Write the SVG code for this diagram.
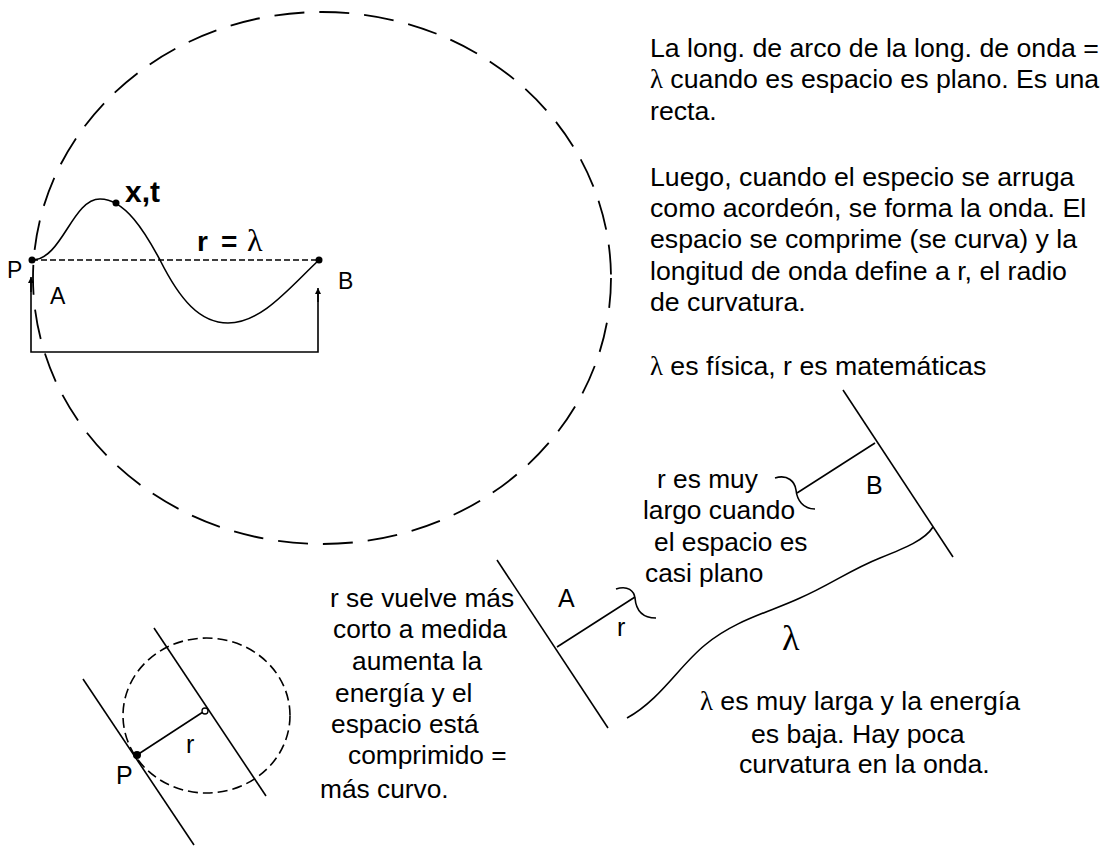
<svg xmlns="http://www.w3.org/2000/svg" width="1107" height="846" viewBox="0 0 1107 846">
<style>
text{font-family:"Liberation Sans",Arial,sans-serif;fill:#000;font-size:26.7px}
.mid{font-size:26.3px}
.lam{font-family:"Liberation Serif","Times New Roman",serif}
.ln{fill:none;stroke:#000;stroke-width:1.6}
.bigdash{fill:none;stroke:#000;stroke-width:1.8;stroke-dasharray:30 15}
.smdash{fill:none;stroke:#000;stroke-width:1.6;stroke-dasharray:10 5}
.bold{font-weight:bold}
.lbl{font-size:23px}
</style>
<defs>
<marker id="arr" viewBox="0 0 10 10" refX="10" refY="5" markerWidth="6" markerHeight="6" orient="auto" markerUnits="userSpaceOnUse">
<path d="M0,0 L10,5 L0,10 z" fill="#000"/>
</marker>
</defs>
<rect width="1107" height="846" fill="#fff"/>

<g id="big-circle">
<ellipse class="bigdash" cx="322" cy="278" rx="289" ry="266"/>
</g>

<g id="wave-diagram">
<line x1="32" y1="260" x2="319" y2="260" stroke="#000" stroke-width="1.6" stroke-dasharray="6 3"/>
<path class="ln" d="M32,260 C62,260 72,199 100,199 C125,199 145,232 160,260 C180,300 200,323 228,323 C262,323 290,287 319,260"/>
<circle cx="32" cy="260" r="3.5" fill="#000"/>
<circle cx="319" cy="260" r="3.5" fill="#000"/>
<circle cx="116" cy="203" r="3.5" fill="#000"/>
<text x="125" y="202" class="bold" style="font-size:30px">x,t</text>
<text x="197" y="251" class="bold" style="font-size:28px">r</text>
<text x="221" y="251" class="bold" style="font-size:28px">=</text>
<text x="247" y="251" class="lam" style="font-size:32px">λ</text>
<text x="7" y="278" class="lbl">P</text>
<text x="50" y="304" class="lbl">A</text>
<text x="338" y="289" class="lbl">B</text>
</g>

<g id="connectors">
<path class="ln" d="M31,282 L31,352 L318,352 L318,292"/>
<line x1="31" y1="292" x2="31" y2="277" class="ln" marker-end="url(#arr)"/>
<line x1="318" y1="302" x2="318" y2="288" class="ln" marker-end="url(#arr)"/>
</g>

<g id="text-right">
<text x="650" y="57">La long. de arco de la long. de onda =</text>
<text x="650" y="88"><tspan class="lam">λ</tspan> cuando es espacio es plano. Es una</text>
<text x="650" y="120">recta.</text>
<text x="650" y="186">Luego, cuando el especio se arruga</text>
<text x="650" y="217">como acordeón, se forma la onda. El</text>
<text x="650" y="248">espacio se comprime (se curva) y la</text>
<text x="650" y="280">longitud de onda define a r, el radio</text>
<text x="650" y="311">de curvatura.</text>
<text x="650" y="375"><tspan class="lam">λ</tspan> es física, r es matemáticas</text>
</g>

<g id="flat-space">
<line class="ln" x1="843" y1="390" x2="953" y2="557"/>
<line class="ln" x1="497" y1="560" x2="608" y2="728"/>
<line class="ln" x1="875" y1="443" x2="797" y2="493"/>
<line class="ln" x1="557" y1="647" x2="635" y2="597"/>
<path class="ln" d="M775,478 C788,474 795,482 796,490 C797,500 803,509 815,509"/>
<path class="ln" d="M616,589 C628,585 634,591 635,598 C636,610 642,618 656,618"/>
<path class="ln" d="M933,527 C925,540 905,548 880,558 C850,570 830,585 800,598 C770,612 735,620 705,645 C680,665 660,700 627,718"/>
<text x="866" y="494" style="font-size:25px">B</text>
<text x="558" y="607" style="font-size:25px">A</text>
<text x="617" y="636" style="font-size:25px">r</text>
<text x="782" y="650" class="lam" style="font-size:36px">λ</text>
<text class="mid" x="657" y="488">r es muy</text>
<text class="mid" x="643" y="519">largo cuando</text>
<text class="mid" x="654" y="551">el espacio es</text>
<text class="mid" x="645" y="582">casi plano</text>
</g>

<g id="text-middle">
<text class="mid" x="330" y="607">r se vuelve más</text>
<text class="mid" x="333" y="638">corto a medida</text>
<text class="mid" x="352" y="670">aumenta la</text>
<text class="mid" x="335" y="702">energía y el</text>
<text class="mid" x="331" y="733">espacio está</text>
<text class="mid" x="348" y="764">comprimido =</text>
<text class="mid" x="320" y="798">más curvo.</text>
</g>

<g id="text-bottom-right">
<text x="700" y="710"><tspan class="lam">λ</tspan> es muy larga y la energía</text>
<text x="751" y="743">es baja. Hay poca</text>
<text x="739" y="773">curvatura en la onda.</text>
</g>

<g id="curved-space">
<ellipse class="smdash" cx="206.5" cy="715.5" rx="83.5" ry="77.5"/>
<line class="ln" x1="83" y1="679" x2="194" y2="845"/>
<line class="ln" x1="154" y1="628" x2="266" y2="796"/>
<line class="ln" x1="137" y1="755" x2="203" y2="712"/>
<circle cx="137" cy="755" r="4" fill="#000"/>
<circle cx="205" cy="711" r="3" fill="#fff" stroke="#000" stroke-width="1.3"/>
<text x="116" y="784" style="font-size:25px">P</text>
<text x="186" y="753" style="font-size:25px">r</text>
</g>
</svg>
